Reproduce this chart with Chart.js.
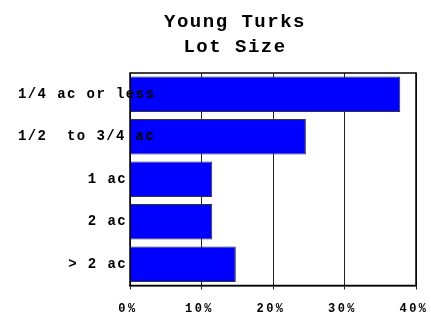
<!DOCTYPE html>
<html>
<head>
<meta charset="utf-8">
<script src="https://cdn.jsdelivr.net/npm/chart.js@4/dist/chart.umd.min.js"></script>
<style>
  html, body { margin: 0; padding: 0; background: #fff; }
  canvas { display: block; }
</style>
</head>
<body>
<canvas id="myChart" width="431" height="313"></canvas>
<script>
// chart data
var titleLines = ["Young Turks", "Lot Size"];
var categories = ["1/4 ac or less", "1/2  to 3/4 ac", "1 ac", "2 ac", "> 2 ac"];
var shares = [37.8, 24.6, 11.5, 11.5, 14.8];
var xTicks = [0, 10, 20, 30, 40];

var MONO = "'Liberation Mono', 'DejaVu Sans Mono', monospace";

// title, category labels and plot frame drawn by hand (labels spill into the plot like the original)
var textPlugin = {
  id: 'texts',
  beforeDraw: function(chart) {
    chart.ctx.letterSpacing = '2.5px';   // x tick labels
  },
  afterDatasetsDraw: function(chart) {
    var ctx = chart.ctx, area = chart.chartArea, yScale = chart.scales.y;
    ctx.save();
    ctx.strokeStyle = '#000';
    ctx.lineWidth = 1.5;
    ctx.strokeRect(area.left, area.top, area.right - area.left, area.bottom - area.top);

    ctx.fillStyle = '#000';
    ctx.letterSpacing = '1.4px';
    ctx.font = "bold 14px " + MONO;
    ctx.textBaseline = 'middle';
    ctx.textAlign = 'left';
    categories.forEach(function(label, i) {
      var w = ctx.measureText(label).width;
      var x = Math.max(18, area.left - 3 - w);
      ctx.fillText(label, x, yScale.getPixelForValue(i));
    });

    ctx.letterSpacing = '1.5px';
    ctx.font = "bold 19px " + MONO;
    ctx.textAlign = 'center';
    ctx.textBaseline = 'alphabetic';
    ctx.fillText(titleLines[0], 235, 26.5);
    ctx.fillText(titleLines[1], 235, 51.5);
    ctx.restore();
  }
};

var ctx = document.getElementById('myChart').getContext('2d');
var myChart = new Chart(ctx, {
  type: 'bar',
  data: {
    labels: categories,
    datasets: [{
      data: shares,
      backgroundColor: '#0000ff',
      borderColor: '#333',
      borderWidth: 1,
      barPercentage: 0.835,
      categoryPercentage: 1
    }]
  },
  options: {
    indexAxis: 'y',
    responsive: false,
    animation: false,
    devicePixelRatio: 1,
    layout: { padding: { left: 130, right: 15, top: 73, bottom: 0 } },
    plugins: {
      legend: { display: false },
      title: { display: false },
      tooltip: { enabled: false }
    },
    scales: {
      x: {
        min: 0,
        max: 40,
        afterBuildTicks: function(scale) {
          scale.ticks = xTicks.map(function(v) { return { value: v }; });
        },
        afterFit: function(scale) {
          scale.height = 27.5;
          scale.paddingLeft = 0;
          scale.paddingRight = 0;
        },
        grid: { color: '#222', lineWidth: 1, tickLength: 4 },
        border: { color: '#000', width: 1.5 },
        ticks: {
          color: '#000',
          padding: 12,
          labelOffset: -2,
          maxRotation: 0,
          font: { family: MONO, size: 12, weight: 'bold' },
          callback: function(v) { return v + '%'; }
        }
      },
      y: {
        display: false,
        offset: true
      }
    }
  },
  plugins: [textPlugin]
});
</script>
</body>
</html>
